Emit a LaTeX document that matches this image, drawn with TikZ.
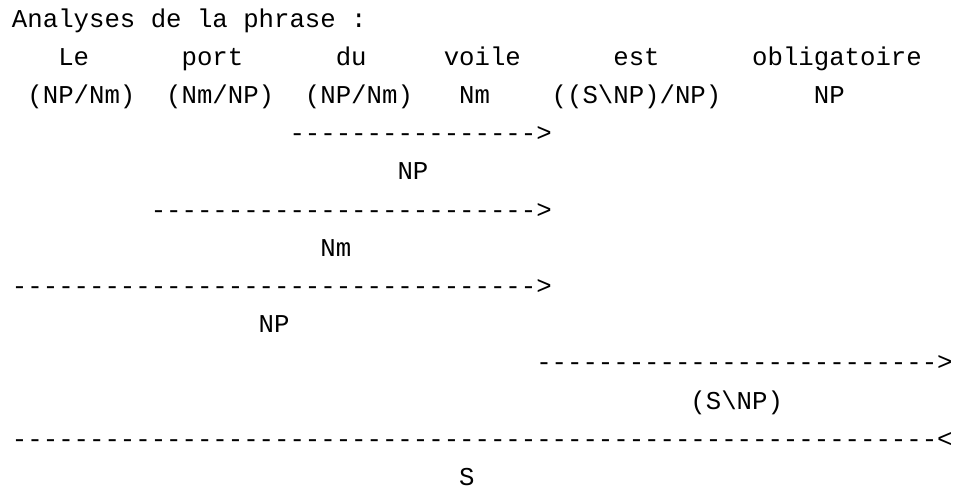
\documentclass[tikz,border=0pt]{standalone}
\usepackage{fontspec}
\setmonofont{Liberation Mono}
\newfontfamily\cellfont{Liberation Mono}
\ExplSyntaxOn
\NewDocumentCommand\hyphens{m}{\prg_replicate:nn{#1}{-\kern0pt}}
\ExplSyntaxOff
\begin{document}
% One unit in x is one character cell, one unit in y is one text line.
\begin{tikzpicture}[x=15.42pt,y=-38.2pt,
  tok/.style={anchor=base west,inner sep=0pt,outer sep=0pt,
    font=\cellfont\fontsize{25.7pt}{30pt}\selectfont,text=black}]
\path[use as bounding box] (-12pt,27pt) rectangle (942pt,-461pt);

% heading
\node[tok] (title) at (0,0) {Analyses de la phrase :};

% words
\node[tok] (wLe)   at (3,1)  {Le};
\node[tok] (wport) at (11,1) {port};
\node[tok] (wdu)   at (21,1) {du};
\node[tok] (wvoile) at (28,1) {voile};
\node[tok] (west)  at (39,1) {est};
\node[tok] (wobl)  at (48,1) {obligatoire};

% lexical categories
\node[tok] (cLe)   at (1,2)  {(NP/Nm)};
\node[tok] (cport) at (10,2) {(Nm/NP)};
\node[tok] (cdu)   at (19,2) {(NP/Nm)};
\node[tok] (cvoile) at (29,2) {Nm};
\node[tok] (cest)  at (35,2) {((S\textbackslash NP)/NP)};
\node[tok] (cobl)  at (52,2) {NP};

% derivation steps: rule line, then resulting category
\node[tok] (r1) at (18,3) {\hyphens{16}>};
\node[tok] (n1) at (25,4) {NP};
\node[tok] (r2) at (9,5)  {\hyphens{25}>};
\node[tok] (n2) at (20,6) {Nm};
\node[tok] (r3) at (0,7)  {\hyphens{34}>};
\node[tok] (n3) at (16,8) {NP};
\node[tok] (r4) at (34,9) {\hyphens{26}>};
\node[tok] (n4) at (44,10) {(S\textbackslash NP)};
\node[tok] (r5) at (0,11) {\hyphens{60}<};
\node[tok] (n5) at (29,12) {S};
\end{tikzpicture}
\end{document}
